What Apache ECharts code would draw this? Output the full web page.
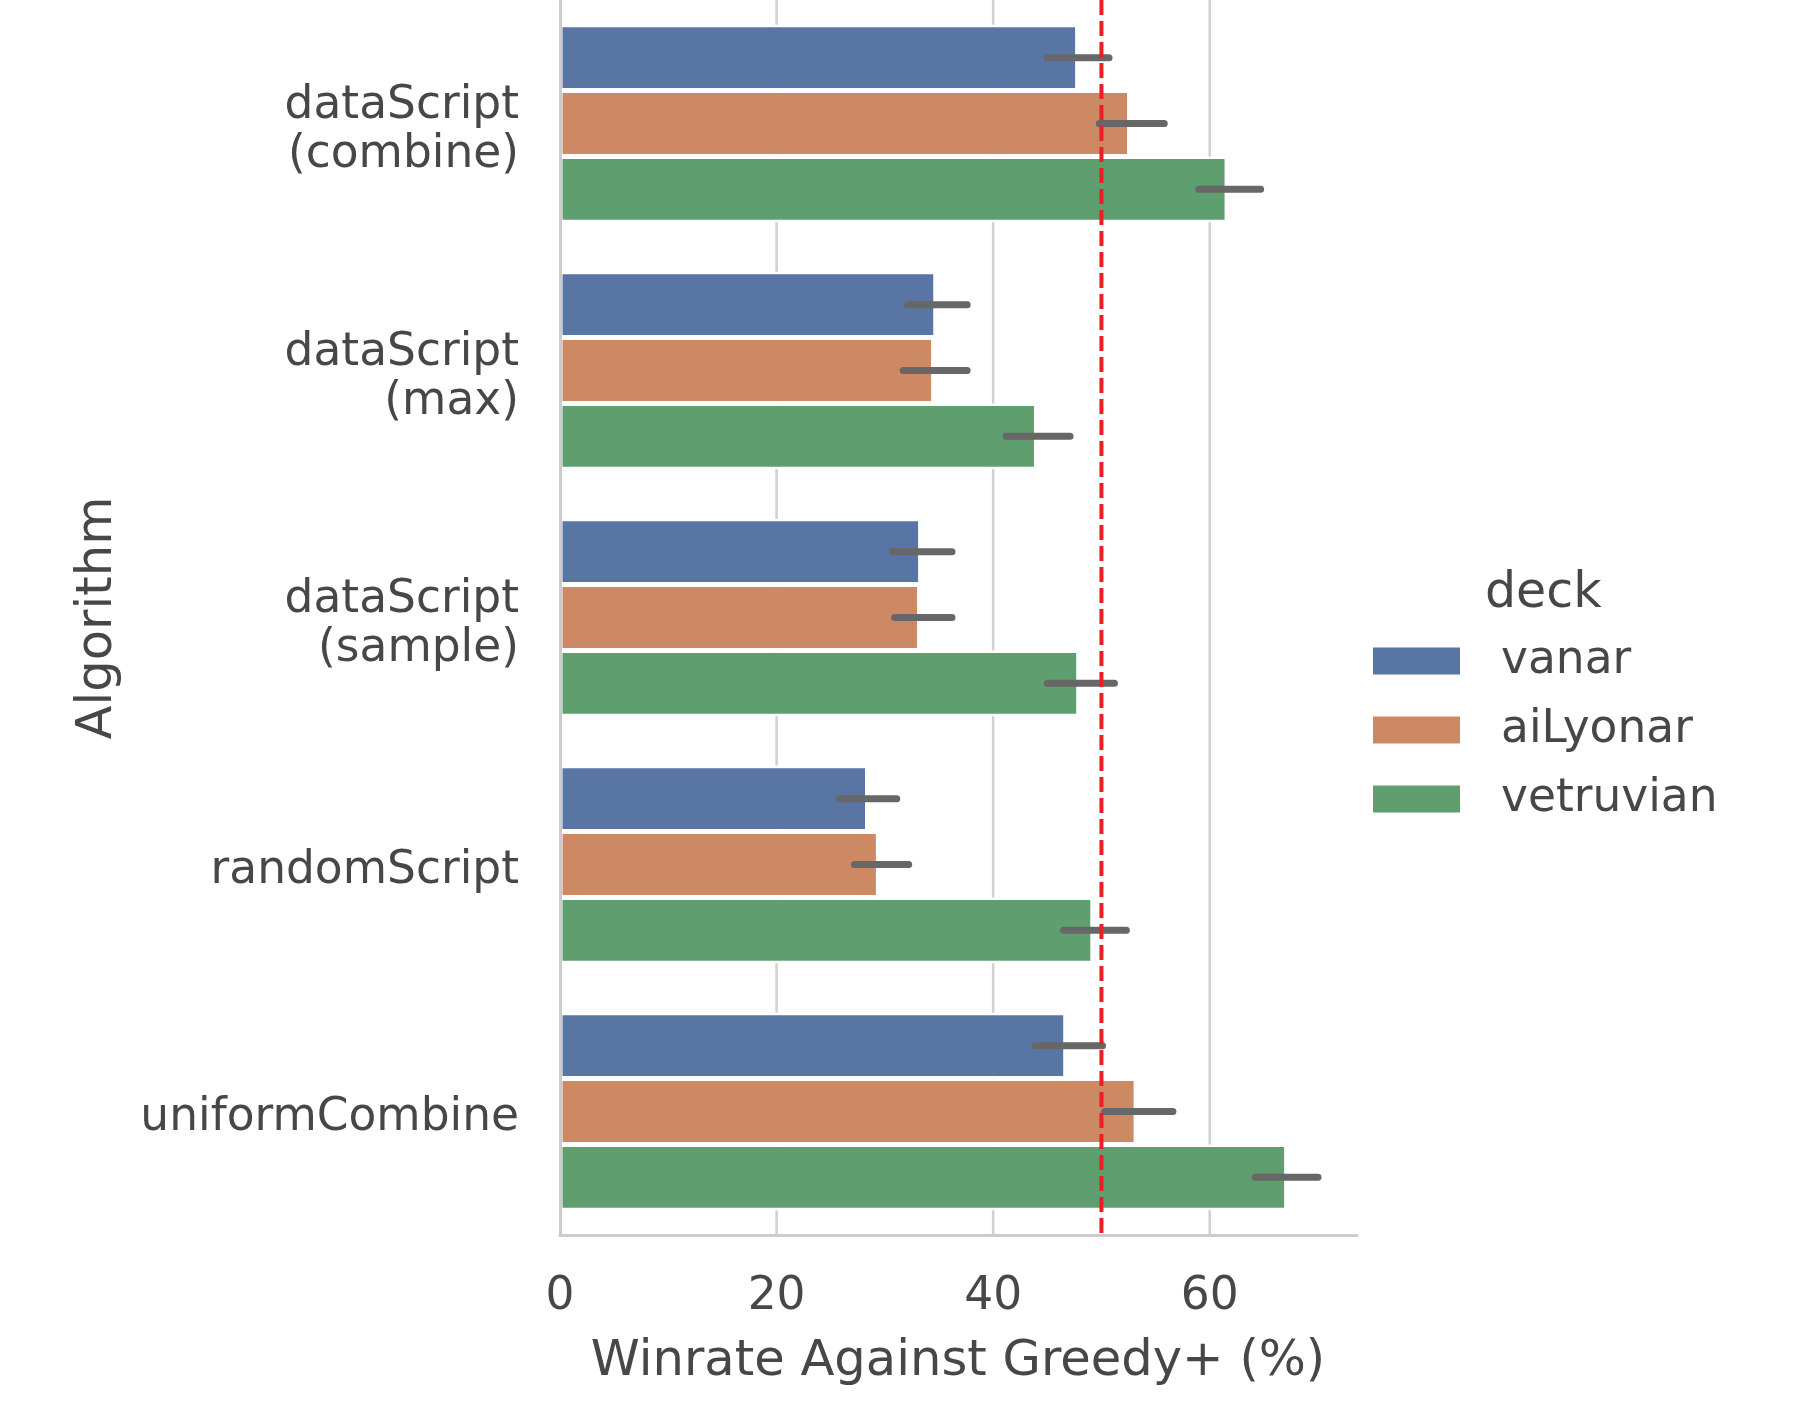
<!DOCTYPE html>
<html>
<head>
<meta charset="utf-8">
<script src="https://cdn.jsdelivr.net/npm/echarts@6/dist/echarts.min.js"></script>
<style>
  html, body { margin: 0; padding: 0; background: #ffffff; }
  #chart { width: 1796px; height: 1418px; }
</style>
</head>
<body>
<div id="chart"></div>
<script>
// Algorithms (y categories), top to bottom
const categories = ['dataScript\n(combine)', 'dataScript\n(max)', 'dataScript\n(sample)', 'randomScript', 'uniformCombine'];
const decks = ['vanar', 'aiLyonar', 'vetruvian'];
const deckColors = ['#5875a4', '#cc8963', '#5f9e6e'];

// Mean winrate against Greedy+ (%) per deck
const vanar     = [47.8, 34.7, 33.3, 28.4, 46.7];
const aiLyonar  = [52.6, 34.5, 33.2, 29.4, 53.2];
const vetruvian = [61.6, 44.0, 47.9, 49.2, 67.1];

// Confidence interval bounds per deck
const vanarLo     = [45.0, 32.1, 30.7, 25.8, 43.9];
const vanarHi     = [50.7, 37.6, 36.2, 31.1, 50.1];
const aiLyonarLo  = [49.8, 31.7, 30.9, 27.2, 50.3];
const aiLyonarHi  = [55.8, 37.6, 36.2, 32.2, 56.6];
const vetruvianLo = [59.0, 41.2, 45.0, 46.5, 64.2];
const vetruvianHi = [64.7, 47.1, 51.2, 52.3, 70.0];

// Axis ticks and reference line
const xTicks = [0, 20, 40, 60];
const xMax = 73.6;
const evenLine = 50;

const FONT = 'DejaVu Sans';
const TEXT = '#474747';

const means = [vanar, aiLyonar, vetruvian];
const lows = [vanarLo, aiLyonarLo, vetruvianLo];
const highs = [vanarHi, aiLyonarHi, vetruvianHi];

const ciData = [];
for (let k = 0; k < decks.length; k++) {
  for (let i = 0; i < categories.length; i++) {
    ciData.push([i, lows[k][i], highs[k][i], k]);
  }
}

const chart = echarts.init(document.getElementById('chart'), null, { renderer: 'canvas' });

const barSeries = decks.map((name, k) => ({
  name: name,
  type: 'bar',
  data: means[k],
  barGap: '0%',
  barCategoryGap: '20%',
  z: 2,
  itemStyle: { color: deckColors[k], borderColor: '#ffffff', borderWidth: 2.5 }
}));

function vLineRenderer(color, width, dash) {
  return function (params, api) {
    const cs = params.coordSys;
    const x = api.coord([api.value(0), 0])[0];
    return {
      type: 'line',
      shape: { x1: x, y1: cs.y, x2: x, y2: cs.y + cs.height },
      style: { stroke: color, lineWidth: width, lineDash: dash || null }
    };
  };
}

// Category labels: a thin spacer line on top nudges each label block slightly downward
function categoryLabel(value) {
  return '{s| }\n' + value.split('\n').map(line => '{t|' + line + '}').join('\n');
}

const option = {
  backgroundColor: '#ffffff',
  animation: false,
  textStyle: { fontFamily: FONT },
  grid: { left: 560, right: 439, top: 0, bottom: 183, containLabel: false },
  xAxis: {
    type: 'value',
    min: 0,
    max: xMax,
    interval: 20,
    axisLine: { show: true, lineStyle: { color: '#cccccc', width: 3 } },
    axisTick: { show: false },
    splitLine: { show: false },
    axisLabel: {
      color: TEXT, fontFamily: FONT, fontSize: 45.5, margin: 39.5,
      showMaxLabel: false,
      formatter: v => (xTicks.indexOf(v) >= 0 ? String(v) : '')
    }
  },
  yAxis: {
    type: 'category',
    data: categories,
    inverse: true,
    z: 5,
    axisLine: { show: true, lineStyle: { color: '#cccccc', width: 3 } },
    axisTick: { show: false },
    splitLine: { show: false },
    axisLabel: {
      color: TEXT, fontFamily: FONT, fontSize: 45.5, margin: 41, align: 'right',
      formatter: categoryLabel,
      rich: {
        s: { fontSize: 2, lineHeight: 14 },
        t: { color: TEXT, fontFamily: FONT, fontSize: 45.5, lineHeight: 49.5, align: 'right' }
      }
    }
  },
  legend: {
    data: decks,
    orient: 'vertical',
    left: 1371,
    top: 638,
    padding: 0,
    itemWidth: 89,
    itemHeight: 29,
    itemGap: 23,
    icon: 'rect',
    textStyle: { color: TEXT, fontFamily: FONT, fontSize: 45.5, lineHeight: 29, padding: [0, 0, 0, 35] }
  },
  graphic: [
    {
      type: 'text', left: 1485, top: 570,
      style: { text: 'deck', fill: TEXT, font: '49px "DejaVu Sans"' }
    },
    {
      type: 'text', x: 958, y: 1362,
      style: { text: 'Winrate Against Greedy+ (%)', fill: TEXT, font: '49.6px "DejaVu Sans"', textAlign: 'center', textVerticalAlign: 'middle' }
    },
    {
      type: 'text', x: 98, y: 618, rotation: Math.PI / 2,
      style: { text: 'Algorithm', fill: TEXT, font: '49.6px "DejaVu Sans"', textAlign: 'center', textVerticalAlign: 'middle' }
    }
  ],
  series: [
    {
      name: 'grid',
      type: 'custom',
      z: 1,
      silent: true,
      data: xTicks.filter(v => v > 0).map(v => [v]),
      encode: { x: 0 },
      renderItem: vLineRenderer('#d0d0d0', 2.5)
    },
    ...barSeries,
    {
      name: 'ci',
      type: 'custom',
      z: 5,
      silent: true,
      data: ciData,
      encode: { x: [1, 2], y: 0 },
      renderItem: function (params, api) {
        const cat = api.value(0), lo = api.value(1), hi = api.value(2), k = api.value(3);
        const band = api.size([0, 1])[1];
        const barW = band * 0.8 / decks.length;
        const off = (k - (decks.length - 1) / 2) * barW;
        const p1 = api.coord([lo, cat]);
        const p2 = api.coord([hi, cat]);
        return {
          type: 'line',
          shape: { x1: p1[0], y1: p1[1] + off, x2: p2[0], y2: p2[1] + off },
          style: { stroke: '#676767', lineWidth: 7, lineCap: 'round' }
        };
      }
    },
    {
      name: 'even',
      type: 'custom',
      z: 10,
      silent: true,
      data: [[evenLine]],
      encode: { x: 0 },
      renderItem: vLineRenderer('#ee1c24', 4, [15, 6])
    }
  ]
};

chart.setOption(option);
</script>
</body>
</html>
